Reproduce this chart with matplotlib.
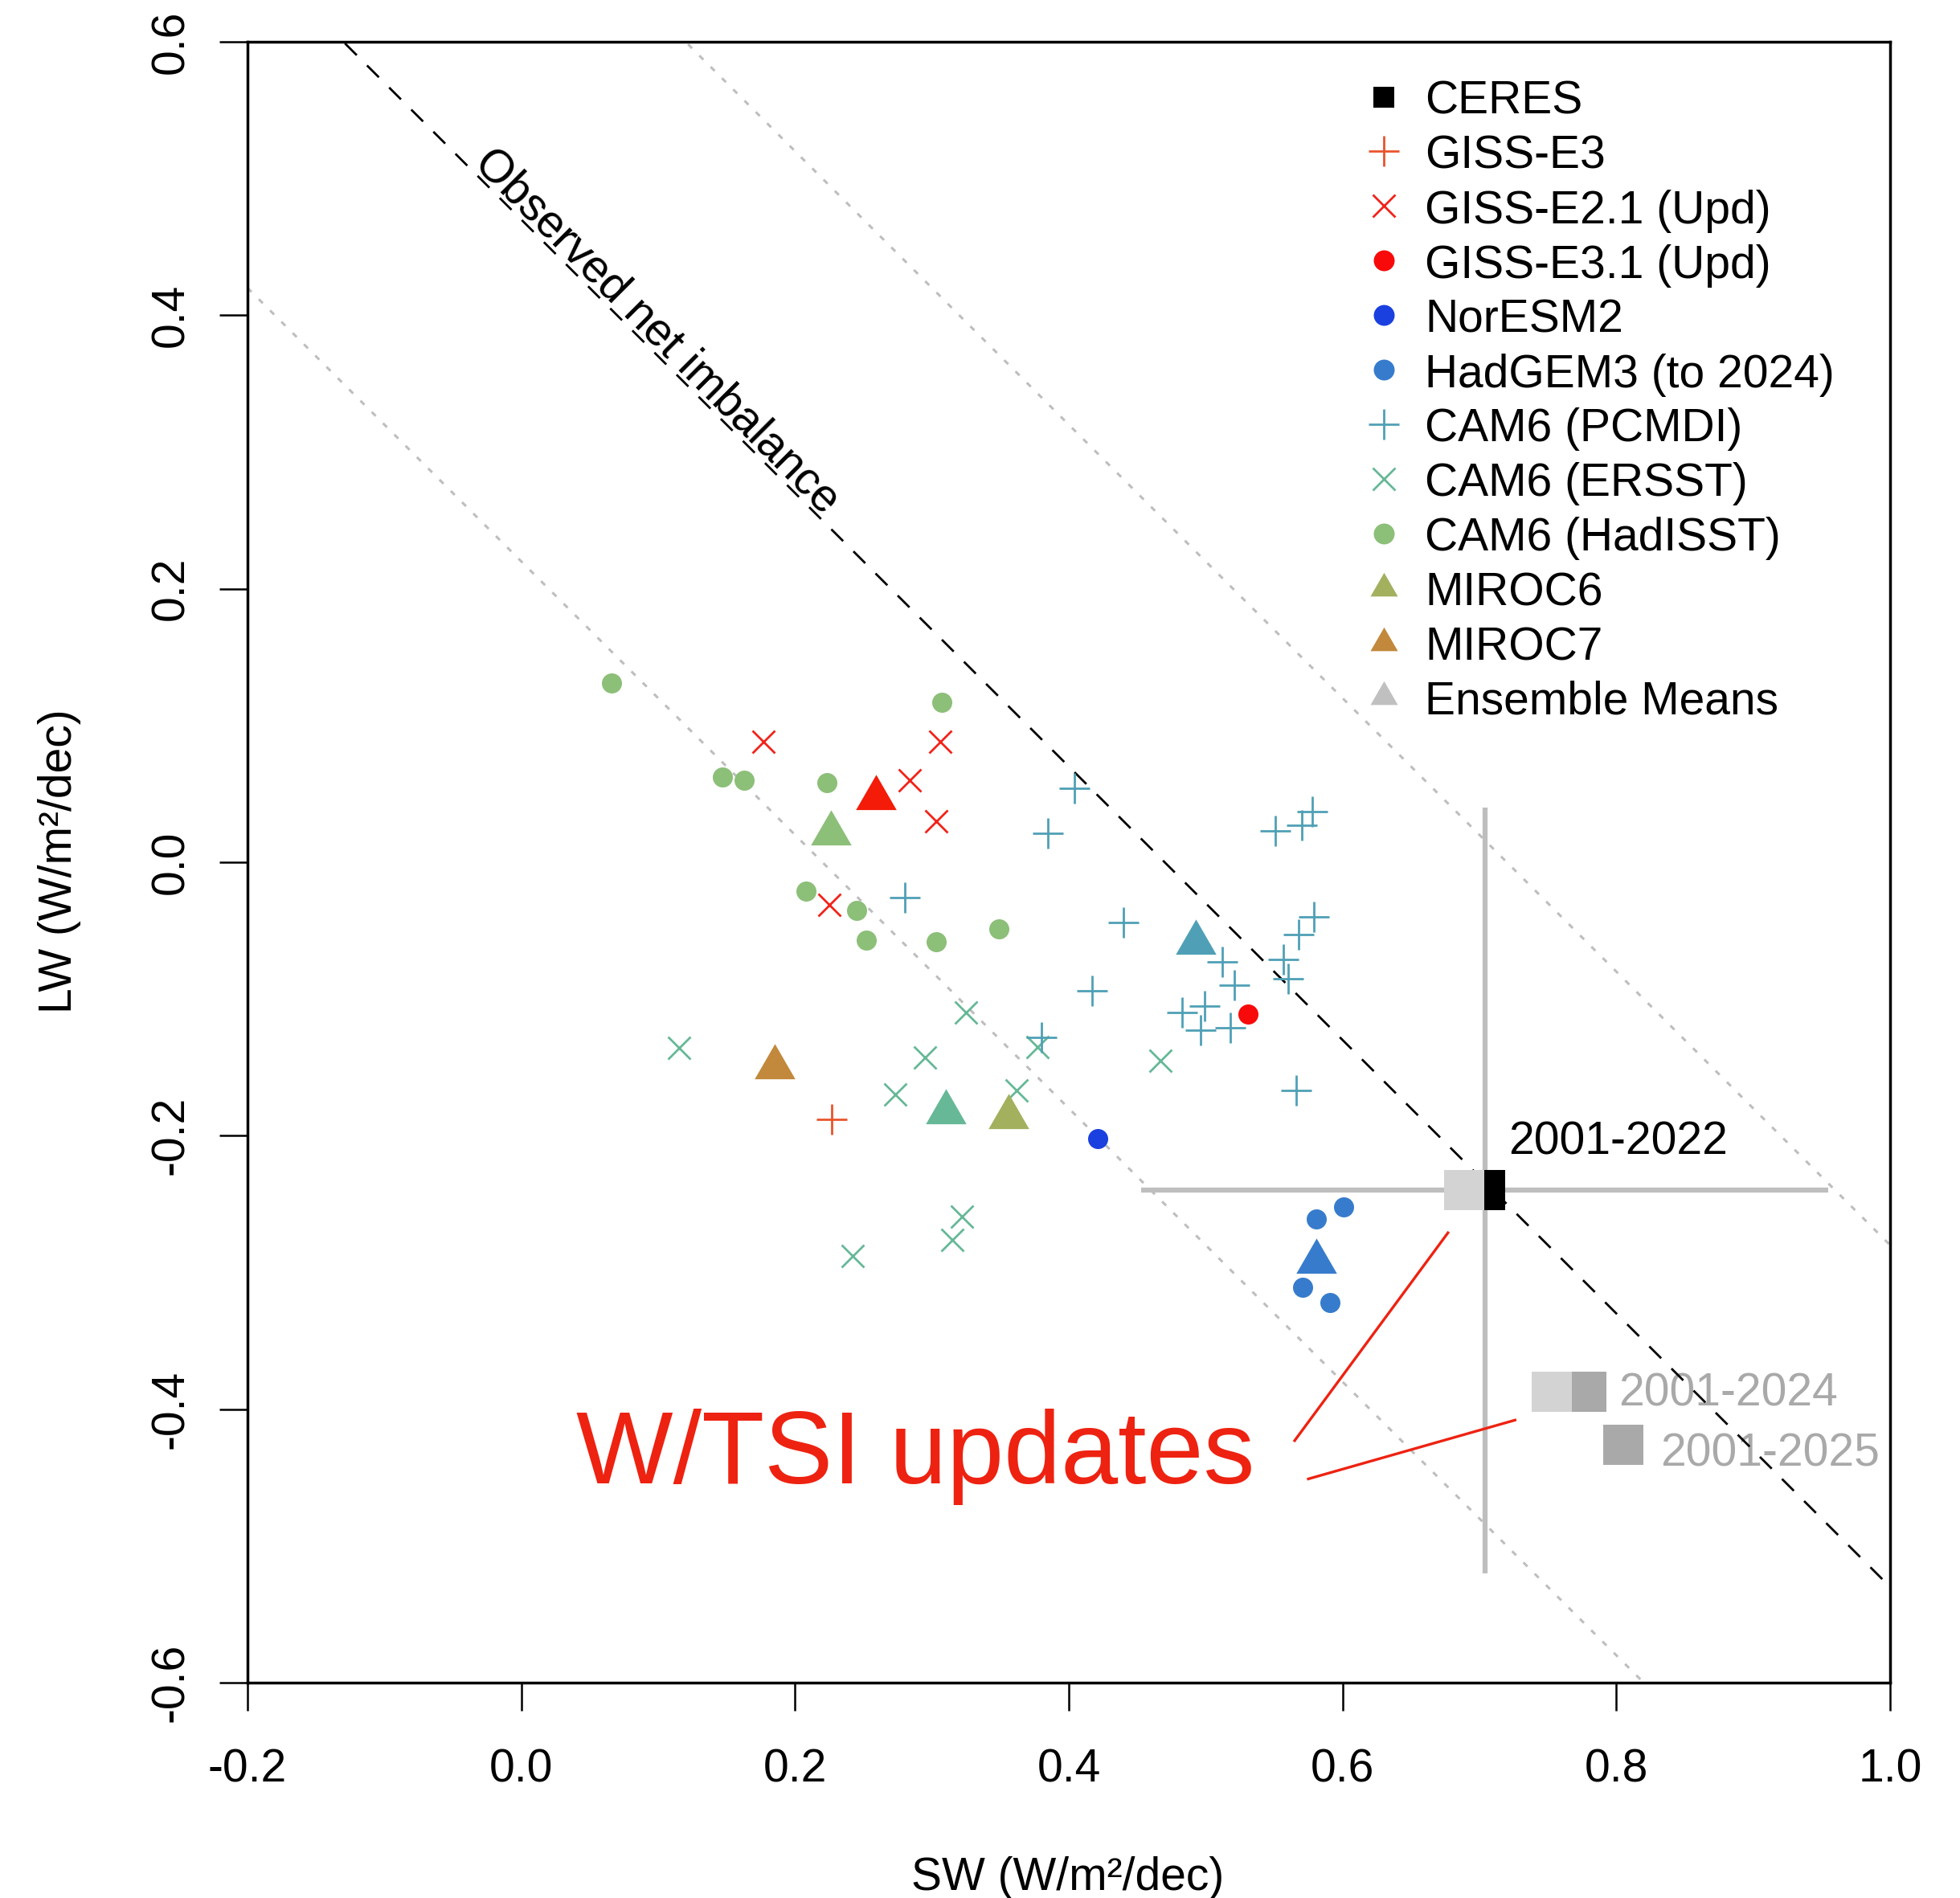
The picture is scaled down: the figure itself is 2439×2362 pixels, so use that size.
import numpy as np
import matplotlib.pyplot as plt
from matplotlib.path import Path

plt.rcParams['font.family'] = ['Liberation Sans', 'DejaVu Sans']

# ---- data (SW, LW trends in W/m2/dec) ----
net_obs = 0.47      # observed net imbalance line: SW + LW
band = 0.25         # dotted lines either side

ceres_sw = [0.704]
ceres_lw = [-0.240]
ceres_err_sw = [0.251]
ceres_err_lw = [0.280]

period_labels = ['2001-2022', '2001-2024', '2001-2025']
orig_sw = [0.704, 0.778, 0.805]
orig_lw = [-0.240, -0.387, -0.426]
orig_col = ['black', '#A9A9A9', '#A9A9A9']
upd_sw = [0.689, 0.753]
upd_lw = [-0.240, -0.387]

giss_e3_sw = [0.227]
giss_e3_lw = [-0.188]

giss_e21_sw = [0.177, 0.306, 0.284, 0.303, 0.225]
giss_e21_lw = [0.088, 0.088, 0.060, 0.030, -0.031]

giss_e31_sw = [0.531]
giss_e31_lw = [-0.111]

noresm_sw = [0.421]
noresm_lw = [-0.202]

hadgem_sw = [0.601, 0.581, 0.571, 0.591]
hadgem_lw = [-0.252, -0.261, -0.311, -0.322]

pcmdi_sw = [0.404, 0.385, 0.551, 0.570, 0.578, 0.440, 0.579, 0.568, 0.557, 0.560,
            0.512, 0.521, 0.417, 0.499, 0.483, 0.496, 0.518, 0.566, 0.280, 0.380]
pcmdi_lw = [0.054, 0.021, 0.023, 0.027, 0.037, -0.044, -0.040, -0.053, -0.071, -0.085,
            -0.073, -0.090, -0.094, -0.105, -0.110, -0.123, -0.121, -0.167, -0.026, -0.128]

ersst_sw = [0.115, 0.325, 0.295, 0.377, 0.273, 0.362, 0.467, 0.322, 0.315, 0.242]
ersst_lw = [-0.136, -0.110, -0.143, -0.135, -0.170, -0.167, -0.145, -0.259, -0.276, -0.288]

hadisst_sw = [0.066, 0.307, 0.147, 0.163, 0.223, 0.208, 0.245, 0.252, 0.303, 0.349]
hadisst_lw = [0.131, 0.117, 0.062, 0.060, 0.058, -0.021, -0.035, -0.057, -0.058, -0.049]

# ensemble means (triangles)
ens_names = ['GISS-E2.1', 'HadISST', 'MIROC7', 'ERSST', 'MIROC6', 'PCMDI', 'HadGEM3']
ens_sw = [0.259, 0.226, 0.185, 0.310, 0.356, 0.493, 0.581]
ens_lw = [0.047, 0.021, -0.150, -0.183, -0.186, -0.059, -0.292]
ens_col = ['#F41B08', '#8CBF78', '#C2883C', '#66B897', '#A3B05E', '#4FA0B6', '#377CCC']

# red annotation
note_text = 'W/TSI updates'
note_xy = (0.040, -0.454)
note_line1_sw = [0.565, 0.677]
note_line1_lw = [-0.423, -0.271]
note_line2_sw = [0.575, 0.726]
note_line2_lw = [-0.451, -0.408]

x_ticks = [-0.2, 0.0, 0.2, 0.4, 0.6, 0.8, 1.0]
x_ticklabels = ['-0.2', '0.0', '0.2', '0.4', '0.6', '0.8', '1.0']
y_ticks = [-0.6, -0.4, -0.2, 0.0, 0.2, 0.4, 0.6]
y_ticklabels = ['-0.6', '-0.4', '-0.2', '0.0', '0.2', '0.4', '0.6']

# ---- style ----
tri = Path([(0, 0.577), (-0.5, -0.289), (0.5, -0.289), (0, 0.577)],
           [Path.MOVETO, Path.LINETO, Path.LINETO, Path.CLOSEPOLY])
FS = 41

fig = plt.figure(figsize=(24.39, 23.62), dpi=100)
ax = fig.add_axes([308 / 2439, 1 - 2094 / 2362, 2044 / 2439, 2042 / 2362])
ax.set_xlim(-0.2, 1.0)
ax.set_ylim(-0.6, 0.6)

xs = np.array([-0.2, 1.0])
ax.plot(xs, net_obs - xs, color='black', lw=2.0, dashes=(7.5, 6.5), zorder=2)
for off in (-band, band):
    ax.plot(xs, net_obs + off - xs, color='#BEBEBE', lw=2.2, dashes=(2.3, 4.2), zorder=1)

ax.text(0.099, 0.388, 'Observed net imbalance', rotation=-45, rotation_mode='anchor',
        ha='center', va='center', fontsize=FS)

ax.errorbar(ceres_sw, ceres_lw, xerr=ceres_err_sw, yerr=ceres_err_lw, fmt='none',
            ecolor='#BEBEBE', elinewidth=4.5, capsize=0, zorder=2)

# model points
ax.plot(hadisst_sw, hadisst_lw, 'o', color='#8CBF78', ms=18, mew=0, zorder=3)
ax.plot(giss_e21_sw, giss_e21_lw, 'x', color='#F2231A', ms=20, mew=2.0, zorder=3)
ax.plot(ersst_sw, ersst_lw, 'x', color='#66B897', ms=20, mew=2.0, zorder=3)
ax.plot(pcmdi_sw, pcmdi_lw, '+', color='#4FA0B6', ms=28, mew=2.0, zorder=3)
ax.plot(giss_e3_sw, giss_e3_lw, '+', color='#E9542C', ms=28, mew=2.0, zorder=3)
ax.plot(giss_e31_sw, giss_e31_lw, 'o', color='#F80A0A', ms=18, mew=0, zorder=3)
ax.plot(noresm_sw, noresm_lw, 'o', color='#1B40E0', ms=18, mew=0, zorder=3)
ax.plot(hadgem_sw, hadgem_lw, 'o', color='#377CCC', ms=18, mew=0, zorder=3)
for sx, ly, c in zip(ens_sw, ens_lw, ens_col):
    ax.plot([sx], [ly], marker=tri, color=c, ms=42, mew=0, ls='none', zorder=4)

# CERES squares
for sx, ly, c in zip(orig_sw, orig_lw, orig_col):
    ax.plot([sx], [ly], 's', color=c, ms=36, mew=0, zorder=5)
ax.plot(upd_sw, upd_lw, 's', color='#D3D3D3', ms=36, mew=0, zorder=6)

ax.text(0.7214, -0.2137, period_labels[0], fontsize=FS, ha='left', va='baseline', color='black')
ax.text(0.8016, -0.3978, period_labels[1], fontsize=FS, ha='left', va='baseline', color='#A9A9A9', zorder=1)
ax.text(0.8319, -0.4419, period_labels[2], fontsize=FS, ha='left', va='baseline', color='#A9A9A9', zorder=1)

# annotation
ax.text(note_xy[0], note_xy[1], note_text, fontsize=92, color='#EE2211', ha='left', va='baseline')
ax.plot(note_line1_sw, note_line1_lw, color='#EE2211', lw=2.4)
ax.plot(note_line2_sw, note_line2_lw, color='#EE2211', lw=2.4)

# legend (drawn by hand, R style)
leg = [
    ('CERES', 's', 'black', 18.7, 0),
    ('GISS-E3', '+', '#E9542C', 28, 2.0),
    ('GISS-E2.1 (Upd)', 'x', '#F2231A', 20, 2.0),
    ('GISS-E3.1 (Upd)', 'o', '#F80A0A', 18.7, 0),
    ('NorESM2', 'o', '#1B40E0', 18.7, 0),
    ('HadGEM3 (to 2024)', 'o', '#377CCC', 18.7, 0),
    ('CAM6 (PCMDI)', '+', '#4FA0B6', 28, 2.0),
    ('CAM6 (ERSST)', 'x', '#66B897', 20, 2.0),
    ('CAM6 (HadISST)', 'o', '#8CBF78', 18.7, 0),
    ('MIROC6', tri, '#A3B05E', 28.3, 0),
    ('MIROC7', tri, '#C2883C', 28.3, 0),
    ('Ensemble Means', tri, '#C0C0C0', 28.3, 0),
]
for i, (lab, mk, c, ms, mew) in enumerate(leg):
    ym = 1 - (120.5 + 67.9 * i - 52) / 2042
    yb = 1 - (142 + 67.9 * i - 52) / 2042
    ax.plot([0.6918], [ym], marker=mk, color=c, ms=ms, mew=mew, ls='none',
            transform=ax.transAxes, clip_on=False)
    ax.text(0.7167, yb, lab, transform=ax.transAxes, fontsize=FS, ha='left', va='baseline')

# axes
for s in ax.spines.values():
    s.set_linewidth(2.5)
ax.set_xticks(x_ticks)
ax.set_xticklabels(x_ticklabels)
ax.set_yticks(y_ticks)
ax.set_yticklabels(y_ticklabels, rotation=90, va='center')
ax.tick_params(direction='out', length=25, width=1.8, labelsize=FS)
ax.tick_params(axis='x', pad=34)
ax.tick_params(axis='y', pad=24)

fig.text(1329 / 2439, 1 - 2352 / 2362, 'SW (W/m²/dec)', fontsize=FS, ha='center', va='baseline')
fig.text(89 / 2439, 1 - 1071.5 / 2362, 'LW (W/m²/dec)', fontsize=FS, rotation=90,
         rotation_mode='anchor', ha='center', va='baseline')

fig.savefig('out.png', dpi=100)
